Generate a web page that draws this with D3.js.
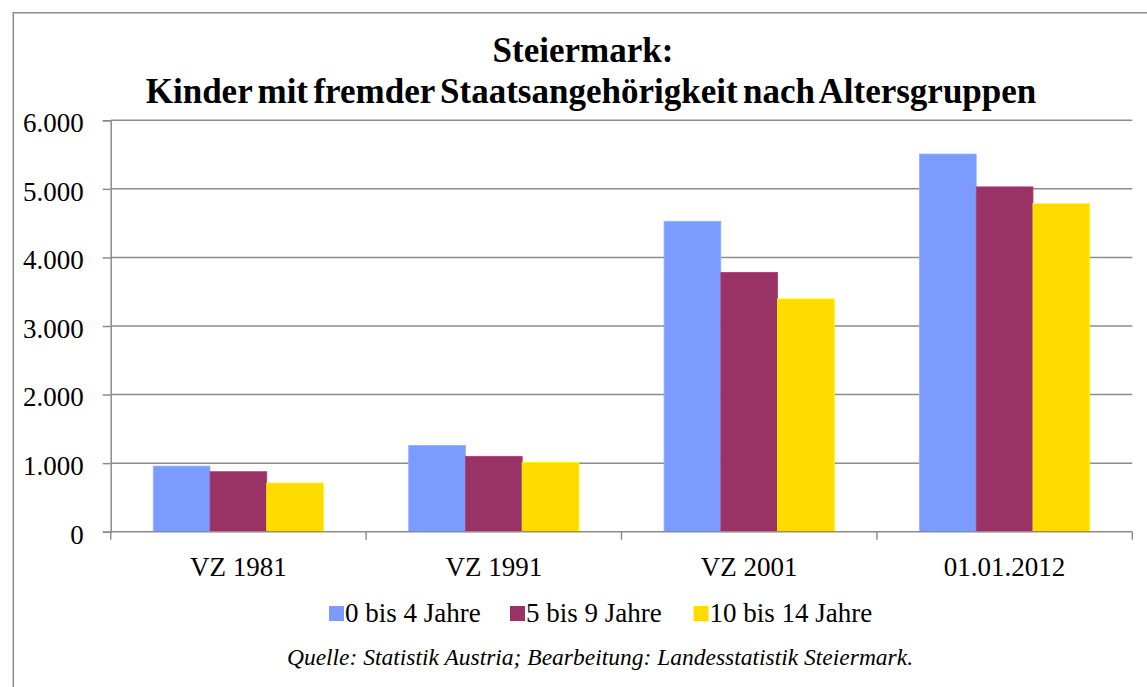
<!DOCTYPE html>
<html><head><meta charset="utf-8">
<script src="https://cdn.jsdelivr.net/npm/d3@7"></script>
<style>body{margin:0;background:#fff}svg{display:block}</style>
</head><body><svg id="c" width="1147" height="687"></svg>
<script>
const categories = ["VZ 1981", "VZ 1991", "VZ 2001", "01.01.2012"];
const seriesNames = ["0 bis 4 Jahre", "5 bis 9 Jahre", "10 bis 14 Jahre"];
const series0to4 = [957, 1258, 4527, 5508];
const series5to9 = [875, 1099, 3782, 5029];
const series10to14 = [710, 1007, 3395, 4787];
const colors = ["#7b9bff", "#993366", "#ffdb00"];
const yTicks = [0, 1000, 2000, 3000, 4000, 5000, 6000];
const yTickLabels = ["0", "1.000", "2.000", "3.000", "4.000", "5.000", "6.000"];
const titleLines = ["Steiermark:", "Kinder mit fremder Staatsangehörigkeit nach Altersgruppen"];
const sourceText = "Quelle: Statistik Austria; Bearbeitung: Landesstatistik Steiermark.";

const FONT = "'Liberation Serif', Tinos, 'Times New Roman', Times, 'DejaVu Serif', serif";
const allSeries = [series0to4, series5to9, series10to14];
const svg = d3.select("#c").attr("font-family", FONT);
const L = 110.7, R = 1132.3, T = 120.3, B = 531.7;
const gridCol = "#8c8c8c";

svg.append("path").attr("d", `M13.3,687 L13.3,12.7 L1147,12.7`).attr("fill","none").attr("stroke","#8c8c8c").attr("stroke-width",1.5);

const x0 = d3.scaleBand().domain(categories).range([L, R]).paddingInner(0).paddingOuter(0);
const x1 = d3.scaleBand().domain(d3.range(3)).range([0, x0.bandwidth()]).paddingInner(0).paddingOuter(0.75);
const y = d3.scaleLinear().domain([0, 6000]).range([B, T]);

svg.append("g").selectAll("line").data(yTicks.filter(d=>d>0)).join("line")
  .attr("x1", L).attr("x2", R).attr("y1", d=>y(d)).attr("y2", d=>y(d))
  .attr("stroke", gridCol).attr("stroke-width", 1.5);

const yAxis = svg.append("g").attr("transform", `translate(${L},0)`)
  .call(d3.axisLeft(y).tickValues(yTicks).tickSize(8).tickPadding(19).tickFormat((d,i)=>yTickLabels[i]));
yAxis.attr("font-family", FONT).attr("font-size", 27);
yAxis.select(".domain").attr("stroke", gridCol).attr("stroke-width",1.5);
yAxis.selectAll(".tick line").attr("stroke", gridCol).attr("stroke-width",1.5);
yAxis.selectAll(".tick text").attr("fill","#000").attr("dy", "0.42em");

const g = svg.append("g");
categories.forEach((c, ci) => {
  allSeries.forEach((s, si) => {
    g.append("rect")
      .attr("x", x0(c) + x1(si)).attr("width", x1.bandwidth())
      .attr("y", y(s[ci])).attr("height", y(0) - y(s[ci]))
      .attr("fill", colors[si])
      .attr("stroke", d3.color(colors[si]).brighter(0.4)).attr("stroke-width", 0.8);
  });
});

const xAxisG = svg.append("g").attr("transform", `translate(0,${B})`);
xAxisG.append("line").attr("x1", L).attr("x2", R).attr("stroke", gridCol).attr("stroke-width", 1.5);
const edges = categories.map(c => x0(c)).concat([R]);
xAxisG.selectAll("line.tk").data(edges).join("line").attr("class","tk")
  .attr("x1", d=>d).attr("x2", d=>d).attr("y1", 0).attr("y2", 8).attr("stroke", gridCol).attr("stroke-width", 1.5);
xAxisG.selectAll("text").data(categories).join("text")
  .attr("x", d => x0(d) + x0.bandwidth()/2).attr("y", 44)
  .attr("text-anchor","middle").attr("font-size", 27).text(d=>d);

svg.append("text").attr("x", 583).attr("y", 62).attr("text-anchor","middle")
  .attr("font-size", 35).attr("font-weight","bold").text(titleLines[0]);
svg.append("text").attr("x", 591).attr("y", 103).attr("text-anchor","middle")
  .attr("font-size", 35).attr("font-weight","bold").attr("word-spacing", -3.3).text(titleLines[1]);

const legendX = [329, 510, 693.5];
const lg = svg.append("g");
seriesNames.forEach((n, i) => {
  lg.append("rect").attr("x", legendX[i]).attr("y", 606).attr("width", 15).attr("height", 15).attr("fill", colors[i]);
  lg.append("text").attr("x", legendX[i] + 16).attr("y", 622).attr("font-size", 27).text(n);
});

svg.append("text").attr("x", 600).attr("y", 665).attr("text-anchor","middle")
  .attr("font-size", 23.5).attr("font-style","italic").text(sourceText);
</script></body></html>
